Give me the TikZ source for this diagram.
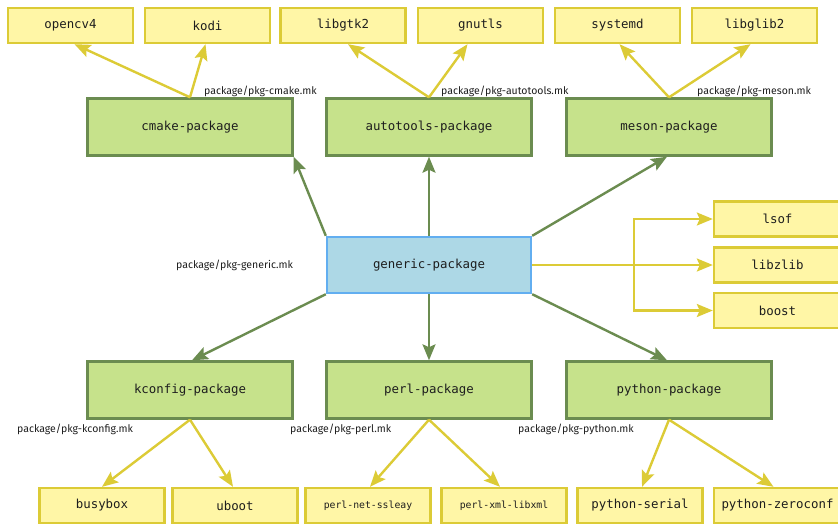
\documentclass[tikz,border=0pt]{standalone}
\usepackage{fontspec}
\setmainfont{Fira Sans}
\setmonofont{DejaVu Sans Mono}
\usetikzlibrary{arrows.meta,calc}
\definecolor{yfill}{HTML}{FFF6A6}
\definecolor{yline}{HTML}{DCCB36}
\definecolor{gfill}{HTML}{C6E28B}
\definecolor{gline}{HTML}{6B8C50}
\definecolor{bfill}{HTML}{ADD8E6}
\definecolor{bline}{HTML}{62AEF0}
\definecolor{txt}{HTML}{1E1E1E}
\tikzset{
  box/.style={draw, line width=2.4pt, inner sep=0pt, text=txt, font=\ttfamily\fontsize{12.4}{14}\selectfont},
  ybox/.style={box, fill=yfill, draw=yline, minimum width=125pt, minimum height=35pt},
  gbox/.style={box, fill=gfill, draw=gline, minimum width=205pt, minimum height=57pt},
  bbox/.style={box, fill=bfill, draw=bline, minimum width=204pt, minimum height=56pt},
  small/.style={font=\ttfamily\fontsize{9.8}{11}\selectfont},
  mklabel/.style={inner sep=0pt, text=txt, font=\fontsize{10.5}{12}\selectfont},
  yarrow/.style={draw=yline, line width=2.4pt, -{Stealth[length=16pt,width=13pt,inset=3pt]}},
  garrow/.style={draw=gline, line width=2.4pt, -{Stealth[length=16pt,width=13pt,inset=3pt]}}
}
\begin{document}
\begin{tikzpicture}[x=1pt,y=-1pt]
\useasboundingbox (0,0) rectangle (838,523);
% top yellow
\node[ybox] (opencv4) at (70.5,25.5) {opencv4};
\node[ybox] (kodi) at (207.5,25.5) {kodi};
\node[ybox] (libgtk2) at (343,25.5) {libgtk2};
\node[ybox] (gnutls) at (480.5,25.5) {gnutls};
\node[ybox] (systemd) at (617.5,25.5) {systemd};
\node[ybox] (libglib2) at (754.5,25.5) {libglib2};
% green top
\node[gbox] (cmake) at (190,127) {cmake-package};
\node[gbox] (autotools) at (429,127) {autotools-package};
\node[gbox] (meson) at (669,127) {meson-package};
% generic
\node[bbox] (generic) at (429,265) {generic-package};
% right yellow
\node[ybox, minimum width=127pt] (lsof) at (777.5,219) {lsof};
\node[ybox, minimum width=127pt] (libzlib) at (777.5,265) {libzlib};
\node[ybox, minimum width=127pt] (boost) at (777.5,310.5) {boost};
% green bottom
\node[gbox] (kconfig) at (190,390) {kconfig-package};
\node[gbox] (perl) at (429,390) {perl-package};
\node[gbox] (python) at (669,390) {python-package};
% bottom yellow
\node[ybox] (busybox) at (102,505.5) {busybox};
\node[ybox] (uboot) at (235,505.5) {uboot};
\node[ybox, small] (perlnet) at (368,505.5) {perl-net-ssleay};
\node[ybox, small] (perlxml) at (504,505.5) {perl-xml-libxml};
\node[ybox] (pyserial) at (640,505.5) {python-serial};
\node[ybox, minimum width=127pt] (pyzero) at (777.5,505.5) {python-zeroconf};
% labels
\node[mklabel, anchor=west] (lcmake) at (204,91) {package/pkg-cmake.mk};
\node[mklabel, anchor=west] (lauto) at (441,91) {package/pkg-autotools.mk};
\node[mklabel, anchor=west] (lmeson) at (697,91) {package/pkg-meson.mk};
\node[mklabel, anchor=west] (lgeneric) at (176,265) {package/pkg-generic.mk};
\node[mklabel, anchor=west] (lkconfig) at (17,429) {package/pkg-kconfig.mk};
\node[mklabel, anchor=west] (lperl) at (290,429) {package/pkg-perl.mk};
\node[mklabel, anchor=west] (lpython) at (518,429) {package/pkg-python.mk};
% yellow arrows top
\draw[yarrow] (cmake.north) -- ($(opencv4.south)+(4,0)$);
\draw[yarrow] (cmake.north) -- ($(kodi.south)+(-2,0)$);
\draw[yarrow] (autotools.north) -- ($(libgtk2.south)+(5,0)$);
\draw[yarrow] (autotools.north) -- ($(gnutls.south)+(-13,0)$);
\draw[yarrow] (meson.north) -- ($(systemd.south)+(2,0)$);
\draw[yarrow] (meson.north) -- ($(libglib2.south)+(-4,0)$);
% green arrows
\draw[garrow] (generic.north west) -- (cmake.south east);
\draw[garrow] (generic.north) -- (autotools.south);
\draw[garrow] (generic.north east) -- ($(meson.south)+(-2,0)$);
\draw[garrow] (generic.south west) -- ($(kconfig.north)+(2,0)$);
\draw[garrow] (generic.south) -- (perl.north);
\draw[garrow] (generic.south east) -- ($(python.north)+(-2,0)$);
% right branch
\coordinate (br) at ($(generic.east)+(102,0)$);
\draw[yarrow] (generic.east) -- (libzlib.west);
\draw[yarrow] (br) |- (lsof.west);
\draw[yarrow] (br) |- (boost.west);
% yellow arrows bottom
\draw[yarrow] (kconfig.south) -- (busybox.north);
\draw[yarrow] (kconfig.south) -- ($(uboot.north)+(-2,0)$);
\draw[yarrow] (perl.south) -- ($(perlnet.north)+(2,0)$);
\draw[yarrow] (perl.south) -- ($(perlxml.north)+(-4,0)$);
\draw[yarrow] (python.south) -- ($(pyserial.north)+(2,0)$);
\draw[yarrow] (python.south) -- ($(pyzero.north)+(-4,0)$);
\end{tikzpicture}
\end{document}
